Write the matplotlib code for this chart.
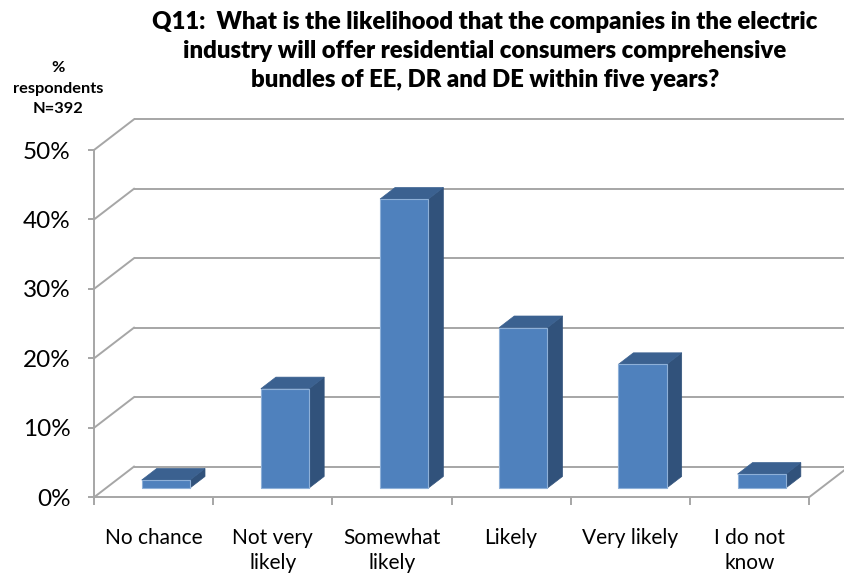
import matplotlib
matplotlib.use("Agg")
import matplotlib.pyplot as plt
from matplotlib.patches import Polygon
import numpy as np

# ---- data ----
categories = ["No chance", "Not very\nlikely", "Somewhat\nlikely", "Likely", "Very likely", "I do not\nknow"]
values = [1.15, 14.3, 41.6, 23.1, 17.8, 2.0]
yticks = [0, 10, 20, 30, 40, 50]
ytick_labels = ["0%", "10%", "20%", "30%", "40%", "50%"]
title = ("Q11:  What is the likelihood that the companies in the electric\n"
         "industry will offer residential consumers comprehensive\n"
         "bundles of EE, DR and DE within five years?")
ylabel = "%\nrespondents\nN=392"

# ---- style ----
FONT = ["Lato", "DejaVu Sans"]
plt.rcParams["font.family"] = FONT
FRONT = "#4F81BD"
SIDE = "#31527B"
TOP = "#3B6190"
EDGE = "#8EB0D8"
GRID = "#A6A6A6"

W, H = 844, 574
fig = plt.figure(figsize=(W / 100, H / 100), dpi=100)
fig.patch.set_facecolor("white")

# front plane axes
x0, x1 = 94, 809
y_top, y_bot = 150, 497.3
ax = fig.add_axes([x0 / W, (H - y_bot) / H, (x1 - x0) / W, (y_bot - y_top) / H])
ax.set_xlim(0, len(categories))
ax.set_ylim(0, 50)
ax.set_facecolor("none")

# depth offsets (data units)
back_dx, back_dy = 0.3357, 4.42
bar_dx, bar_dy = 0.103, 1.34
depth_dx, depth_dy = 0.126, 1.66
bar_w = 0.405

lw = 1.4
# back wall gridlines
n = len(categories)
for v in yticks:
    ax.plot([back_dx, n + back_dx], [v + back_dy, v + back_dy], color=GRID, lw=lw,
            clip_on=False, zorder=1, solid_capstyle="butt")
    # left side wall diagonals
    ax.plot([0, back_dx], [v, v + back_dy], color=GRID, lw=lw, clip_on=False, zorder=1)
# floor right diagonal
ax.plot([n, n + back_dx], [0, back_dy], color=GRID, lw=lw, clip_on=False, zorder=1)

# bars
xc = np.arange(n) + 0.5 + bar_dx
ax.bar(xc, values, width=bar_w, bottom=bar_dy, color=FRONT, edgecolor=EDGE,
       linewidth=0.8, zorder=3)
for x, v in zip(xc, values):
    xl, xr = x - bar_w / 2, x + bar_w / 2
    b, t = bar_dy, bar_dy + v
    side = Polygon([(xr, b), (xr + depth_dx, b + depth_dy), (xr + depth_dx, t + depth_dy), (xr, t)],
                   closed=True, facecolor=SIDE, edgecolor=SIDE, lw=0.5, zorder=2.9)
    top = Polygon([(xl, t), (xr, t), (xr + depth_dx, t + depth_dy), (xl + depth_dx, t + depth_dy)],
                  closed=True, facecolor=TOP, edgecolor=TOP, lw=0.5, zorder=2.9)
    ax.add_patch(side)
    ax.add_patch(top)

# spines
for s in ["top", "right"]:
    ax.spines[s].set_visible(False)
for s in ["left", "bottom"]:
    ax.spines[s].set_color(GRID)
    ax.spines[s].set_linewidth(lw)

# y axis
ax.set_yticks(yticks)
ax.set_yticklabels(ytick_labels, fontsize=17.5, color="black")
ax.tick_params(axis="y", length=4, width=lw, color=GRID, pad=13)

# x axis: boundary ticks (major) and labels (minor)
ax.set_xticks(np.arange(n + 1))
ax.set_xticklabels([""] * (n + 1))
ax.tick_params(axis="x", which="major", length=6, width=lw, color=GRID, direction="out")
ax.set_xticks(np.arange(n) + 0.5, minor=True)
ax.set_xticklabels(categories, minor=True, fontsize=15, linespacing=1.35, va="top")
ax.tick_params(axis="x", which="minor", length=0, pad=22)

# title & axis label
fig.text(485 / W, 1 - 11 / H, title, ha="center", va="top", fontsize=17.2,
         fontweight="heavy", linespacing=1.4, multialignment="center")
fig.text(58 / W, 1 - 61 / H, ylabel, ha="center", va="top", fontsize=11.8,
         fontweight="bold", linespacing=1.6, multialignment="center")

fig.savefig("out.png", dpi=100, facecolor="white")
